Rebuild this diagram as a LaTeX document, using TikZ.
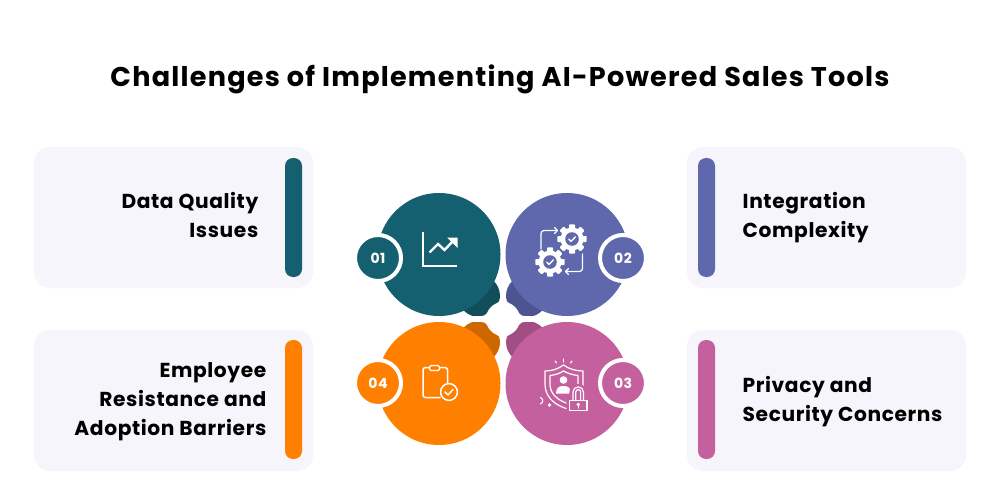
\documentclass[tikz,border=0pt]{standalone}
\usepackage{fontspec}
\setmainfont{Poppins}[LetterSpace=3]
\newfontfamily\titlefont{Poppins}[LetterSpace=4.5]
\definecolor{cteal}{HTML}{156070}
\definecolor{dteal}{HTML}{124E5A}
\definecolor{cblue}{HTML}{5F68AD}
\definecolor{dblue}{HTML}{4D5491}
\definecolor{cpink}{HTML}{C5609F}
\definecolor{dpink}{HTML}{A04E84}
\definecolor{corange}{HTML}{FF7F00}
\definecolor{dorange}{HTML}{CF6700}
\definecolor{cardbg}{HTML}{F5F5FB}
\tikzset{
  x=1pt,y=-1pt,
  card/.style={fill=cardbg,rounded corners=16pt},
  disc/.style={circle,minimum size=123pt,inner sep=0pt,fill=#1},
  badge/.style={circle,minimum size=46pt,inner sep=0pt,fill=#1,draw=white,line width=4pt,text=white,font=\bfseries\fontsize{14}{14}\selectfont},
  lab/.style={font=\bfseries\fontsize{20.2}{29}\selectfont,inner sep=0pt,text=black},
  ic/.style={draw=white,line width=1.6pt,line cap=round,line join=round},
}
\newcommand{\gearicon}[3]{%
  \begin{scope}[shift={(#1,#2)}]
    \fill[white] (0,0) circle (11.5);
    \foreach \a in {0,45,...,315}{\fill[white,rotate=\a,rounded corners=0.8pt] (-3,-14.7) rectangle (3,-8);}
    \fill[#3] (0,0) circle (6.8);
    \draw[ic,line width=1.4pt] (-3.2,0.2) -- (-0.9,2.4) -- (3.4,-2.2);
  \end{scope}}
\newcommand{\blobquad}[3]{%
  \begin{scope}[shift={(503,319)},xscale=#1,yscale=#2]
    \fill[#3] (-24,-23) circle (21);
  \end{scope}}
\newcommand{\fillets}[2]{%
  \begin{scope}[shift={(503,319)},xscale=#1,yscale=#2]
    \fill[white] (-3,-20.5) .. controls (-3,-18) and (-4,-17) .. (-6,-15.9) -- (0,0) -- cycle;
    \fill[white] (-21,-3) .. controls (-19,-3) and (-17.5,-4) .. (-15.9,-6) -- (0,0) -- cycle;
  \end{scope}}
\begin{document}
\begin{tikzpicture}
\useasboundingbox (0,0) rectangle (1000,500);
\fill[white] (0,0) rectangle (1000,500);
\node[font=\titlefont\bfseries\fontsize{27.1}{27}\selectfont,text=black] (title) at (500,79) {Challenges of Implementing AI-Powered Sales Tools};
% cards
\fill[card] (34,147) rectangle (313,288);
\fill[card] (34,330) rectangle (313,471);
\fill[card] (687,147) rectangle (966,288);
\fill[card] (687,330) rectangle (966,471);
\fill[cteal,rounded corners=8pt] (285,158) rectangle (302,277);
\fill[corange,rounded corners=8pt] (285,340) rectangle (302,459);
\fill[cblue,rounded corners=8pt] (698,158) rectangle (715,277);
\fill[cpink,rounded corners=8pt] (698,340) rectangle (715,459);
% labels
\node[lab,anchor=east,align=right] (t1) at (258.5,215) {Data Quality\\Issues};
\node[lab,anchor=east,align=right] (t4) at (266.5,401.5) {Employee\\Resistance and\\Adoption Barriers};
\node[lab,anchor=west,align=left] (t2) at (742.5,218) {Integration\\Complexity};
\node[lab,anchor=west,align=left] (t3) at (742.5,401.5) {Privacy and\\Security Concerns};
% dark blobs behind discs
\blobquad{1}{1}{dteal}
\blobquad{-1}{1}{dblue}
\blobquad{1}{-1}{dorange}
\blobquad{-1}{-1}{dpink}
\fill[white] (500,270) rectangle (506,370);
\fill[white] (450,316) rectangle (560,322);
\fill[white] (503,319) circle (17);
\fillets{1}{1}
\fillets{-1}{1}
\fillets{1}{-1}
\fillets{-1}{-1}
% discs
\node[disc=cteal] (d1) at (439,254.5) {};
\node[disc=cblue] (d2) at (567,254.5) {};
\node[disc=corange] (d4) at (439,383.5) {};
\node[disc=cpink] (d3) at (567,383.5) {};
\node[badge=cteal] (b1) at (378,258) {01};
\node[badge=cblue] (b2) at (623,258) {02};
\node[badge=corange] (b4) at (378,383) {04};
\node[badge=cpink] (b3) at (623,383) {03};
% chart icon
\draw[ic,line width=1.8pt,line cap=butt,line join=miter] (423,232) -- (423,266) -- (457,266);
\draw[ic,line width=2.4pt,line cap=butt,line join=miter] (429.5,252.5) -- (438,244) -- (444.5,250) -- (453,241);
\fill[white] (457.5,237.5) -- (447,237.5) -- (457.5,248) -- cycle;
% gears icon
\gearicon{572}{239}{cblue}
\gearicon{550}{262}{cblue}
\draw[ic,line width=1.2pt,rounded corners=3pt] (541,249) -- (541,230.5) -- (557,230.5);
\draw[ic,line width=1.2pt] (554.5,227.5) -- (557.5,230.5) -- (554.5,233.5);
\draw[ic,line width=1.2pt,rounded corners=3pt] (582.5,254) -- (582.5,271.5) -- (566,271.5);
\draw[ic,line width=1.2pt] (568.5,268.5) -- (565.5,271.5) -- (568.5,274.5);
% shield icon
\draw[ic,line width=1.2pt] (566,408.5) .. controls (553,404) and (545,396) .. (545,384) -- (545,371) .. controls (552,371) and (558,369) .. (563.5,365) .. controls (569,369) and (576,371) .. (583,371) -- (583,386);
\draw[ic,line width=1.2pt] (566,403) .. controls (556,399) and (550,393) .. (550,384) -- (550,375.5) .. controls (555,375) and (559.5,373.5) .. (563.5,371) .. controls (568,373.5) and (573,375) .. (578,375.5) -- (578,386);
\fill[white] (563.5,380) circle (3.8);
\fill[white] (556,393.5) .. controls (556,387) and (560,386) .. (563.5,386) .. controls (567,386) and (571,387) .. (571,393.5) -- cycle;
\fill[cpink] (578.2,393) circle (9);
\fill[cpink] (567,399) rectangle (589,413);
\draw[ic,line width=1.2pt] (569.5,400.5) rectangle (587,410.5);
\draw[ic,line width=1.2pt] (573,400.5) -- (573,392) arc[start angle=180,end angle=360,radius=5.2] -- (583.4,400.5);
\draw[ic,line width=1.2pt] (575.8,400.5) -- (575.8,392) arc[start angle=180,end angle=360,radius=2.4] -- (580.6,400.5);
\fill[white] (578.2,404.5) circle (1.9);
\draw[ic,line width=1.1pt] (578.2,404.5) -- (578.2,408);
\draw[ic,line width=1.1pt] (563.5,362) -- (563.5,359);
\draw[ic,line width=1.1pt] (556.5,363) -- (555,361);
\draw[ic,line width=1.1pt] (570.5,363) -- (572,361);
\fill[white] (549.5,405) circle (1.8);
\draw[ic,line width=1.1pt] (540.5,404) arc[start angle=70,end angle=-70,radius=3.5];
% clipboard icon
\draw[ic,line width=1.5pt,rounded corners=2.5pt] (440,397.5) -- (423,397.5) -- (423,367.5) -- (447.5,367.5) -- (447.5,383);
\draw[draw=white,line width=1.4pt,fill=corange,rounded corners=1.5pt] (429.5,365.5) rectangle (439.5,370.5);
\draw[ic,line width=1.5pt] (449,392) circle (8.4);
\draw[ic,line width=1.5pt] (445,392) -- (448,395) -- (453,389.5);
\end{tikzpicture}
\end{document}
